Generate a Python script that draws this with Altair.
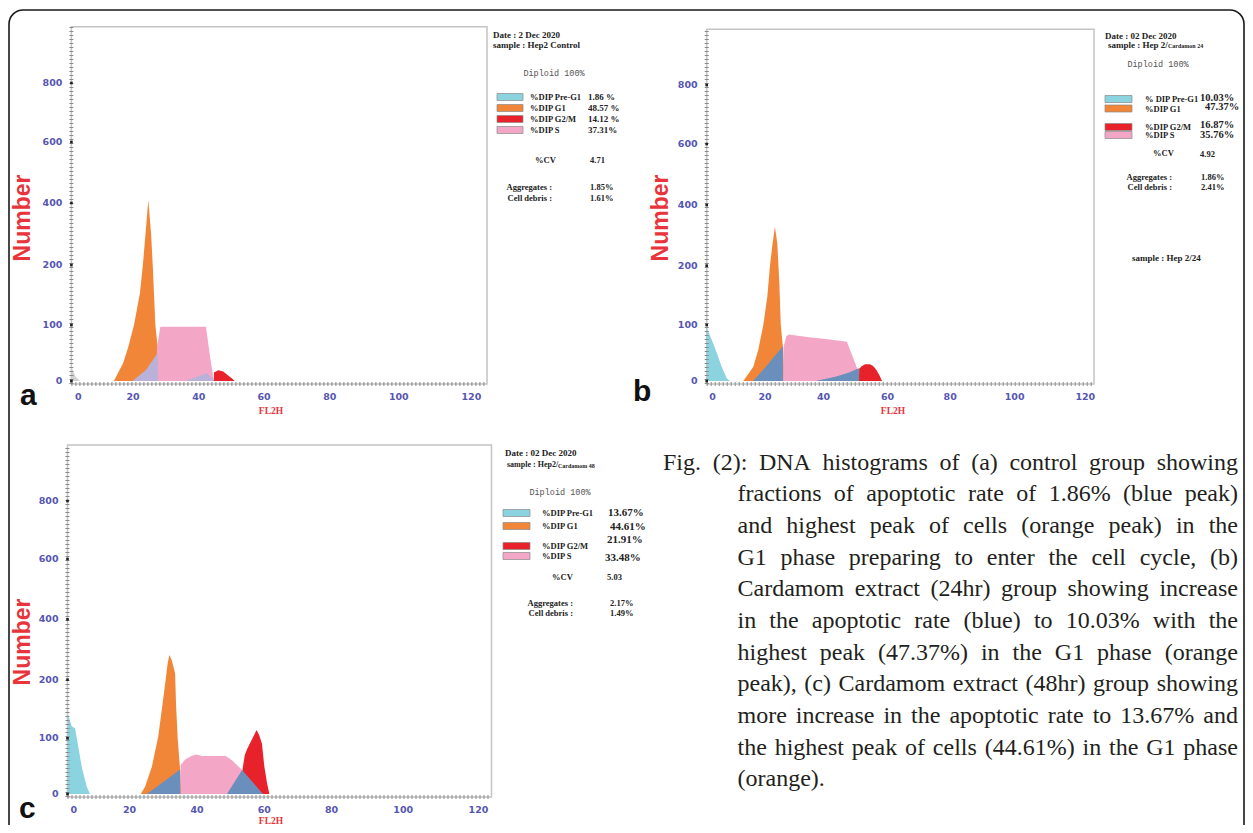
import altair as alt
import pandas as pd

W, H = 1237, 817
M = 8  # page margin

# ---------------- data ----------------
X_TICKS = [0, 20, 40, 60, 80, 100, 120]
Y_TICKS = [0, 100, 200, 400, 600, 800]
Y_STOPS = [-5, 0, 100, 200, 400, 600, 800, 990]
a_x_stops = [-2.4, 0, 20, 40, 60, 80, 100, 120, 124.5]
b_x_stops = [-2.3, 0, 20, 40, 60, 80, 100, 120, 122.6]
c_x_stops = [-2.2, 0, 20, 40, 60, 80, 100, 120, 124.0]

# panel a (control)
a_deb_x = [-2.4, -1.0, 0.6]
a_deb_y = [25, 8, 0]
a_g1_x = [13.0, 16.4, 18.3, 20.3, 22.1, 23.0, 23.9, 24.65, 25.5, 26.0, 26.8, 27.7, 28.2, 28.6]
a_g1_y = [0, 32, 61, 100, 153, 200, 313, 410, 300, 200, 100, 49, 20, 0]
a_s_x = [27.0, 27.3, 28.3, 42.2, 43.3, 44.6]
a_s_y = [0, 60, 97, 97, 50, 0]
a_ov1_x = [19.8, 24.0, 27.5, 27.55]
a_ov1_y = [0, 20, 50, 0]
a_ov2_x = [36.0, 42.5, 44.8]
a_ov2_y = [0, 14, 0]
a_g2_x = [44.6, 44.65, 46.0, 47.5, 49.0, 50.3, 51.0]
a_g2_y = [0, 15, 19, 17, 10, 4, 0]

# panel b (Cardamom 24 h)
b_pre_x = [-2.3, -0.3, 1.6, 3.5, 5.4, 6.6]
b_pre_y = [95, 73, 50, 25, 5, 0]
b_g1_x = [11.7, 15.5, 17.4, 19.35, 20.8, 21.7, 22.6, 23.4, 24.2, 24.9, 25.4, 26.1, 26.5, 26.8]
b_g1_y = [0, 25, 55, 100, 148, 200, 274, 328, 274, 171, 100, 61, 25, 0]
b_s_x = [26.2, 26.3, 27.3, 28.1, 35.0, 42.0, 47.3, 49.0, 50.9, 51.5]
b_s_y = [0, 60, 80, 83, 78, 74, 70, 45, 17, 0]
b_ov1_x = [15.5, 21.0, 26.1, 26.15]
b_ov1_y = [0, 30, 62, 0]
b_ov2_x = [37.4, 44.0, 48.0, 51.2, 51.25]
b_ov2_y = [0, 8, 15, 23, 0]
b_g2_x = [51.1, 51.15, 52.0, 53.0, 54.5, 55.5, 56.5, 57.5, 58.3]
b_g2_y = [0, 22, 27, 30, 30, 27, 20, 10, 0]

# panel c (Cardamom 48 h)
c_pre_x = [-2.15, -0.7, 0.47, 1.65, 2.86, 4.65, 5.83]
c_pre_y = [143, 120, 117, 85, 49, 13, 0]
c_g1_x = [23.3, 24.6, 26.6, 28.5, 29.7, 30.7, 31.3, 31.8, 32.5, 33.5, 33.8, 34.3, 35.0, 35.3]
c_g1_y = [0, 13, 49, 103, 155, 200, 255, 282, 265, 221, 155, 97, 43, 0]
c_s_x = [35.1, 35.15, 36.5, 38.3, 39.8, 41.5, 48.5, 50.5, 53.4, 56.0]
c_s_y = [0, 52, 62, 68, 71, 68, 68, 60, 43, 0]
c_g2_x = [53.5, 53.55, 54.2, 55.0, 56.5, 57.7, 58.5, 59.3, 60.0, 60.8, 61.5]
c_g2_y = [0, 45, 70, 82, 100, 114, 105, 90, 50, 20, 0]
c_ov1_x = [25.1, 35.0, 35.05]
c_ov1_y = [0, 44, 0]
c_ov2_x = [48.9, 53.4, 59.6]
c_ov2_y = [0, 43, 0]

# report texts
a_labels = ['%DIP Pre-G1', '%DIP G1', '%DIP G2/M', '%DIP S']
a_values = ['1.86 %', '48.57 %', '14.12 %', '37.31%']
b_labels = ['% DIP Pre-G1', '%DIP G1', '%DIP G2/M', '%DIP S']
b_values = ['10.03%', '47.37%', '16.87%', '35.76%']
c_labels = ['%DIP Pre-G1', '%DIP G1', '%DIP G2/M', '%DIP S']
c_values = ['13.67%', '44.61%', '21.91%', '33.48%']
dates = ['Date : 2 Dec 2020', 'Date : 02 Dec 2020', 'Date : 02 Dec 2020']
samples = ['sample : Hep2 Control', 'sample : Hep 2/', 'sample : Hep2/']
samples_small = ['', 'Cardamon 24', 'Cardamom 48']
cv_values = ['4.71', '4.92', '5.03']
agg_values = ['1.85%', '1.86%', '2.17%']
debris_values = ['1.61%', '2.41%', '1.49%']
b_extra = 'sample : Hep 2/24'
panel_letters = ['a', 'b', 'c']

CAPTION = [
    'Fig. (2): DNA histograms of (a) control group showing',
    'fractions of apoptotic rate of 1.86% (blue peak)',
    'and highest peak of cells (orange peak) in the',
    'G1 phase preparing to enter the cell cycle, (b)',
    'Cardamom extract (24hr) group showing increase',
    'in the apoptotic rate (blue) to 10.03% with the',
    'highest peak (47.37%) in the G1 phase (orange',
    'peak), (c) Cardamom extract (48hr) group showing',
    'more increase in the apoptotic rate to 13.67% and',
    'the highest peak of cells (44.61%) in the G1 phase',
    '(orange).',
]

# ---------------- styles / layout ----------------
CYAN, ORANGE, PINK, RED = '#8ad3df', '#f28638', '#f3a6c5', '#e8222b'
LAV, STEEL, DEBRIS = '#b9b1d9', '#6b8fbd', '#d2d2d2'
TICKBLUE = '#5656b2'
NUMRED = '#e8343c'

PANELS = {
    'a': dict(xpx=[71.4, 78.4, 133, 198.8, 264, 329.8, 398.8, 471.4, 487],
              ypx=[384, 381, 325, 265, 203, 142, 83, 26.7],
              number=(23, 218), fl2h=(271, 411), letter=(20, 405)),
    'b': dict(xpx=[706.7, 712.6, 765, 823.5, 887.5, 950.2, 1014.6, 1085.3, 1094],
              ypx=[384, 381, 325, 265.7, 205, 144, 85, 29.3],
              number=(661, 218), fl2h=(893, 411), letter=(633, 401)),
    'c': dict(xpx=[67.5, 73.7, 129.6, 197, 264.3, 331.6, 403.2, 478.5, 491.5],
              ypx=[797, 794, 738.3, 679.7, 619.3, 559, 501, 445],
              number=(23, 642), fl2h=(271, 821), letter=(19, 818)),
}

INFO = {
    'a': dict(date=(493, 35), sample=(493, 45), sample_size=9, small=None, diploid=(554, 73),
              sw_x=(497, 523), rows=[97, 108, 119, 130], lab_x=530,
              val_x=[588, 588, 588, 588], val_y=[97, 108, 119, 130], val_size=9,
              cv=(535, 160), cv_val=(590, 160), agg_rx=552, agg_y=[186.5, 198], agg_vx=590),
    'b': dict(date=(1105, 36), sample=(1108, 45), sample_size=9, small=(1168, 45.5), diploid=(1158, 64),
              sw_x=(1105, 1132), rows=[99, 108.5, 127, 135], lab_x=1145,
              val_x=[1200, 1205, 1200, 1200], val_y=[97.5, 106.5, 125, 135], val_size=10.5,
              cv=(1153, 153), cv_val=(1200, 154), agg_rx=1172, agg_y=[177, 186.5], agg_vx=1201),
    'c': dict(date=(505, 453), sample=(507, 465), sample_size=8, small=(558, 466), diploid=(560, 492),
              sw_x=(503, 530), rows=[513, 526, 546, 556], lab_x=542,
              val_x=[608, 610, 607, 605], val_y=[513, 527, 540, 558], val_size=11,
              cv=(552, 577), cv_val=(607, 577), agg_rx=573, agg_y=[603, 613], agg_vx=610),
}

DUMMY = pd.DataFrame({'k': [0]})


def panel(key, x_stops, series):
    L = PANELS[key]
    xs = alt.Scale(type='linear', domain=x_stops, range=[p - M for p in L['xpx']], nice=False, zero=False)
    ys = alt.Scale(type='linear', domain=Y_STOPS, range=[p - M for p in L['ypx']], nice=False, zero=False)
    X0 = alt.XDatum(x_stops[0], scale=xs, axis=None)
    Y0 = alt.YDatum(Y_STOPS[0], scale=ys, axis=None)
    frame = alt.Chart(DUMMY).mark_rect(fill='transparent', stroke='#c4c4c4', strokeWidth=1.5).encode(
        x=X0, x2=alt.X2Datum(x_stops[-1]), y=Y0, y2=alt.Y2Datum(Y_STOPS[-1]))
    layers = [frame]
    for xv, yv, col in series:
        df = pd.DataFrame({'x': xv, 'y': yv})
        layers.append(alt.Chart(df).mark_area(color=col, opacity=1).encode(
            x=alt.X('x:Q', scale=xs, axis=None),
            y=alt.Y('y:Q', scale=ys, axis=None),
            y2=alt.Y2Datum(0)))
    # ruler-like axis lines
    layers.append(alt.Chart(DUMMY).mark_rule(color='#8a8a8a', strokeWidth=4, strokeDash=[1, 3]).encode(
        x=X0, x2=alt.X2Datum(x_stops[-1]), y=Y0))
    layers.append(alt.Chart(DUMMY).mark_rule(color='#8a8a8a', strokeWidth=4, strokeDash=[1, 3]).encode(
        x=X0, y=Y0, y2=alt.Y2Datum(Y_STOPS[-1])))
    # tick marks on the y axis
    layers.append(alt.Chart(pd.DataFrame({'v': Y_TICKS})).mark_point(
        shape='square', size=7, filled=True, color='#222222', opacity=1).encode(
        x=X0, y=alt.Y('v:Q', scale=ys, axis=None)))
    # tick labels
    lab = dict(font='DejaVu Sans', fontWeight='bold', fontSize=9.5, color=TICKBLUE, baseline='middle')
    layers.append(alt.Chart(pd.DataFrame({'v': X_TICKS})).mark_text(align='center', dy=13, **lab).encode(
        x=alt.X('v:Q', scale=xs, axis=None), y=Y0, text=alt.Text('v:Q', format='d')))
    layers.append(alt.Chart(pd.DataFrame({'v': Y_TICKS})).mark_text(align='right', dx=-9, **lab).encode(
        x=X0, y=alt.Y('v:Q', scale=ys, axis=None), text=alt.Text('v:Q', format='d')))
    return alt.layer(*layers)


def text_layer(rows, size, font='Liberation Serif', weight='bold', color='#222222', align='left',
               baseline='middle', angle=None):
    df = pd.DataFrame(rows, columns=['px', 'py', 't'])
    df['px'] = df['px'] - M
    df['py'] = df['py'] - M
    kw = dict(fontSize=size, font=font, fontWeight=weight, color=color, align=align, baseline=baseline)
    if angle is not None:
        kw['angle'] = angle
    return alt.Chart(df).mark_text(**kw).encode(
        x=alt.X('px:Q', scale=None, axis=None), y=alt.Y('py:Q', scale=None, axis=None), text='t:N')


layers = [
    panel('a', a_x_stops, [(a_deb_x, a_deb_y, DEBRIS), (a_g1_x, a_g1_y, ORANGE), (a_s_x, a_s_y, PINK),
                           (a_ov1_x, a_ov1_y, LAV), (a_ov2_x, a_ov2_y, LAV), (a_g2_x, a_g2_y, RED)]),
    panel('b', b_x_stops, [(b_pre_x, b_pre_y, CYAN), (b_g1_x, b_g1_y, ORANGE), (b_s_x, b_s_y, PINK),
                           (b_ov1_x, b_ov1_y, STEEL), (b_ov2_x, b_ov2_y, STEEL), (b_g2_x, b_g2_y, RED)]),
    panel('c', c_x_stops, [(c_pre_x, c_pre_y, CYAN), (c_g1_x, c_g1_y, ORANGE), (c_s_x, c_s_y, PINK),
                           (c_g2_x, c_g2_y, RED), (c_ov1_x, c_ov1_y, STEEL), (c_ov2_x, c_ov2_y, STEEL)]),
]

# axis titles, panel letters
layers.append(text_layer([(*PANELS[k]['number'], 'Number') for k in 'abc'], 23, font='Liberation Sans',
                         color=NUMRED, align='center', angle=270))
layers.append(text_layer([(*PANELS[k]['fl2h'], 'FL2H') for k in 'abc'], 9.5, color=NUMRED, align='center'))
layers.append(text_layer([(*PANELS[k]['letter'], t) for k, t in zip('abc', panel_letters)], 30,
                         font='Liberation Sans', color='#111111', baseline='alphabetic'))

# report blocks
swatch_cols = [CYAN, ORANGE, RED, PINK]
date_rows, lab_rows, right_rows, mono_rows, small_rows = [], [], [], [], []
sample_rows, val_rows = {}, {}
sw_rows = []
for i, k in enumerate('abc'):
    I = INFO[k]
    labels = [a_labels, b_labels, c_labels][i]
    values = [a_values, b_values, c_values][i]
    date_rows.append((*I['date'], dates[i]))
    sample_rows.setdefault(I['sample_size'], []).append((*I['sample'], samples[i]))
    if I['small']:
        small_rows.append((*I['small'], samples_small[i]))
    mono_rows.append((*I['diploid'], 'Diploid 100%'))
    for j in range(4):
        sw_rows.append(dict(x0=I['sw_x'][0] - M, x1=I['sw_x'][1] - M, y0=I['rows'][j] - 3.5 - M,
                            y1=I['rows'][j] + 3.5 - M, c=swatch_cols[j]))
        lab_rows.append((I['lab_x'], I['rows'][j], labels[j]))
        val_rows.setdefault(I['val_size'], []).append((I['val_x'][j], I['val_y'][j], values[j]))
    lab_rows += [(*I['cv'], '%CV'), (*I['cv_val'], cv_values[i]),
                 (I['agg_vx'], I['agg_y'][0], agg_values[i]), (I['agg_vx'], I['agg_y'][1], debris_values[i])]
    right_rows += [(I['agg_rx'], I['agg_y'][0], 'Aggregates :'), (I['agg_rx'], I['agg_y'][1], 'Cell debris :')]
date_rows.append((1132, 258, b_extra))

sw_df = pd.DataFrame(sw_rows)
layers.append(alt.Chart(sw_df).mark_rect(stroke='#8a8a8a', strokeWidth=0.7).encode(
    x=alt.X('x0:Q', scale=None, axis=None), x2='x1:Q',
    y=alt.Y('y0:Q', scale=None, axis=None), y2='y1:Q',
    fill=alt.Fill('c:N', scale=None)))
layers.append(text_layer(date_rows, 9))
for sz, rows in sample_rows.items():
    layers.append(text_layer(rows, sz))
layers.append(text_layer(small_rows, 6))
layers.append(text_layer(lab_rows, 8.5))
layers.append(text_layer(right_rows, 8.5, align='right'))
layers.append(text_layer(mono_rows, 8.5, font='Liberation Mono', weight='normal', color='#555555', align='center'))
for sz, rows in val_rows.items():
    layers.append(text_layer(rows, sz))

# caption, justified word by word
TIMES = {' ': 250, '(': 333, ')': 333, '%': 833, '.': 250, ',': 250, ':': 278, '-': 333,
         'A': 722, 'C': 667, 'D': 722, 'F': 556, 'G': 722, 'N': 722,
         'a': 444, 'b': 500, 'c': 444, 'd': 500, 'e': 444, 'f': 333, 'g': 500, 'h': 500, 'i': 278,
         'k': 500, 'l': 278, 'm': 778, 'n': 500, 'o': 500, 'p': 500, 'r': 333, 's': 389, 't': 278,
         'u': 500, 'v': 500, 'w': 722, 'x': 500, 'y': 500}
CAP_SIZE = 24


def tw(s):
    return sum(TIMES.get(ch, 500) for ch in s) / 1000.0 * CAP_SIZE


cap_rows = []
for i, line in enumerate(CAPTION):
    words = line.split(' ')
    left = 663 if i == 0 else 737.5
    right = 1238
    base = 461.7 + 31.67 * i + 8
    if i == len(CAPTION) - 1:
        gap = tw(' ')
    else:
        gap = (right - left - sum(tw(w) for w in words)) / (len(words) - 1)
    x = left
    for w in words:
        cap_rows.append((x, base, w))
        x += tw(w) + gap
layers.append(text_layer(cap_rows, CAP_SIZE, weight='normal', color='#231f20', baseline='alphabetic'))

# rounded frame around the whole figure
layers.append(alt.Chart(DUMMY).mark_rect(fill='transparent', stroke='#1a1a1a', strokeWidth=1.6,
                                         cornerRadius=14).encode(
    x=alt.value(1), x2=alt.value(1236), y=alt.value(2), y2=alt.value(840)))

chart = alt.layer(*layers).resolve_scale(x='independent', y='independent').properties(
    width=W, height=H, padding=0, autosize=alt.AutoSizeParams(type='none')
).configure_view(strokeWidth=0)

chart.save('out.html', embed_options={'renderer': 'svg', 'actions': False})
